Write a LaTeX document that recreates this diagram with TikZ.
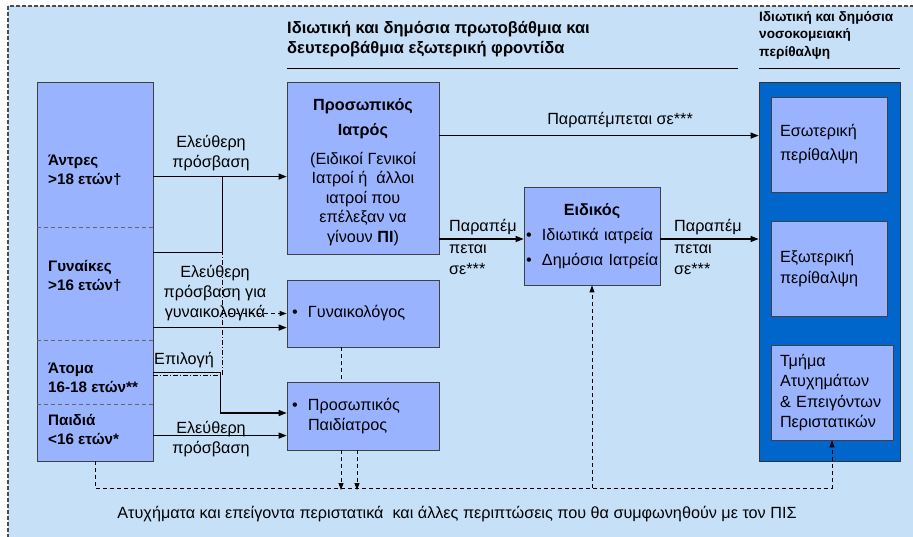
\documentclass[tikz,border=0pt]{standalone}
\usepackage{fontspec}
\setmainfont{Liberation Sans}
\usetikzlibrary{arrows.meta}

\definecolor{bgblue}{HTML}{C6E0F8}
\definecolor{boxblue}{HTML}{99B3FF}
\definecolor{deepblue}{HTML}{0066CC}

\begin{document}
\begin{tikzpicture}[x=1pt,y=-1pt,
    box/.style={draw=black!75,fill=boxblue,line width=0.8pt,inner sep=0pt},
    lbl/.style={align=center,inner sep=0pt,font=\fontsize{16.2}{20}\selectfont},
    grplbl/.style={anchor=west,align=left,inner sep=0pt,font=\fontsize{15.2}{19}\selectfont\bfseries},
    arr/.style={line width=1.1pt,-{Triangle[length=8pt,width=6pt]}},
    darr/.style={line width=0.9pt,dash pattern=on 4pt off 3pt,-{Triangle[length=7pt,width=5pt]}},
    sep/.style={line width=0.9pt,black!60,dash pattern=on 4pt off 3pt}]
    \pgfmathsetmacro{\jx}{69}
    \clip (0,0) rectangle (913,537);
    % frame
    \draw[fill=bgblue,draw=black!70,line width=1.2pt,dash pattern=on 4pt off 2pt]
      (8,6) rectangle (930,560);
    % headings
    \node[anchor=west,align=left,inner sep=0pt,font=\fontsize{16.5}{19.5}\selectfont\bfseries]
      (headprim) at (287,39) {Ιδιωτική και δημόσια πρωτοβάθμια και\\δευτεροβάθμια εξωτερική φροντίδα};
    \node[anchor=west,align=left,inner sep=0pt,font=\fontsize{13.6}{17.5}\selectfont\bfseries]
      (headhosp) at (759,35) {Ιδιωτική και δημόσια\\νοσοκομειακή\\περίθαλψη};
    \draw[line width=0.9pt] (headprim.west |- 0,68) -- (738,68);
    \draw[line width=0.9pt] (headhosp.west |- 0,68) -- (900,68);

    % patient groups
    \node[box,minimum width=116pt,minimum height=379pt] (grp) at (95,271.5) {};
    \draw[sep] ([yshift=-146pt]grp.north west) -- ([yshift=-146pt]grp.north east);
    \draw[sep] ([yshift=-259pt]grp.north west) -- ([yshift=-259pt]grp.north east);
    \draw[sep] ([yshift=-323pt]grp.north west) -- ([yshift=-323pt]grp.north east);
    \node[grplbl] (men) at (48,170) {Άντρες\\>18 ετών†};
    \node[grplbl] (women) at (48,276) {Γυναίκες\\>16 ετών†};
    \node[grplbl] (teens) at (48,378) {Άτομα\\16-18 ετών**};
    \node[grplbl] (kids) at (48,429) {Παιδιά\\<16 ετών*};

    % primary care
    \node[box,minimum width=152pt,minimum height=172pt] (pi) at (363,168) {};
    \node[align=center,inner sep=0pt,font=\fontsize{16.2}{19.5}\selectfont] (pitext) at (363,172)
      {\textbf{Προσωπικός}\\[6pt]\textbf{Ιατρός}\\[9pt](Ειδικοί Γενικοί\\Ιατροί ή\ \ άλλοι\\ιατροί που\\επέλεξαν να\\γίνουν \textbf{ΠΙ})};
    \node[box,minimum height=67pt,text width=142pt,inner xsep=5pt,align=left,
      font=\fontsize{16.2}{20}\selectfont] (gyn) at (363,313.5)
      {\makebox[16pt][l]{•}Γυναικολόγος};
    \node[box,minimum height=68pt,text width=142pt,inner xsep=5pt,align=left,
      font=\fontsize{16.2}{20}\selectfont] (ped) at (363,416)
      {\makebox[16pt][l]{•}Προσωπικός\\\hspace*{16pt}Παιδίατρος};
    \node[box,minimum height=98pt,text width=132pt,inner xsep=2pt,align=left,
      font=\fontsize{16.2}{25}\selectfont] (spec) at (592,236)
      {\makebox[132pt]{\bfseries Ειδικός}\\\makebox[16pt][l]{•}\mbox{Ιδιωτικά ιατρεία}\\\makebox[16pt][l]{•}\mbox{Δημόσια Ιατρεία}};

    % hospital care
    \node[box,fill=deepblue,draw=black!80,minimum width=141pt,minimum height=379pt] (hosp) at (829.5,271.5) {};
    \node[box,minimum height=95pt,text width=98pt,inner xsep=9pt,align=left,
      font=\fontsize{16.2}{24}\selectfont] (inpat) at (829,144.5) {Εσωτερική\\περίθαλψη};
    \node[box,minimum height=95pt,text width=98pt,inner xsep=9pt,align=left,
      font=\fontsize{16.2}{21}\selectfont] (outpat) at (829,268.5) {Εξωτερική\\περίθαλψη};
    \node[box,minimum height=95pt,text width=104pt,inner xsep=9pt,align=left,
      font=\fontsize{16.2}{20.5}\selectfont] (ae) at (832,392.5)
      {Τμήμα\\Ατυχημάτων\\\&\ Επειγόντων\\Περιστατικών};

    % access routes
    \coordinate (s1) at ([yshift=-95pt]grp.north east);
    \coordinate (s2) at ([yshift=-171pt]grp.north east);
    \coordinate (s3) at ([yshift=-246pt]grp.north east);
    \coordinate (s4) at ([yshift=-291pt]grp.north east);
    \coordinate (s5) at ([yshift=-294pt]grp.north east);
    \coordinate (s6) at ([yshift=-354pt]grp.north east);
    \coordinate (jv) at ([xshift=\jx pt]s1);
    \draw[arr] (s1) -- (s1 -| pi.west);
    \draw[line width=1.1pt] (s2) -| (jv);
    \draw[line width=0.9pt,dash pattern=on 5pt off 2pt on 1pt off 2pt] (s5) -| ([xshift=\jx pt]s2);
    \draw[darr] (jv |- gyn.west) -- (gyn.west);
    \draw[arr] (s3) -- (s3 -| gyn.west);
    \draw[arr] (s4) -- ++(67,0) |- ([yshift=3pt]ped.west);
    \draw[arr] (s6) -- (s6 -| ped.west);
    \node[lbl] (free1) at (211,153) {Ελεύθερη\\πρόσβαση};
    \node[lbl] (free2) at (215,293) {Ελεύθερη\\πρόσβαση για\\γυναικολογικά};
    \node[lbl] (choice) at (184,360) {Επιλογή};
    \node[lbl] (free3) at (211,439) {Ελεύθερη\\πρόσβαση};

    % referrals
    \coordinate (r1) at ([yshift=-54pt]pi.north east);
    \coordinate (r2) at ([yshift=-3pt]spec.west);
    \coordinate (r3) at ([yshift=-3pt]spec.east);
    \draw[arr] (r1) -- (r1 -| hosp.west)
      node[lbl,pos=0.566,above=7pt] (ref1) {Παραπέμπεται σε***};
    \draw[arr] (pi.east |- r2) -- (r2);
    \draw[arr] (r3) -- (r3 -| hosp.west);
    \node[lbl,anchor=west,align=left,font=\fontsize{16.2}{21.5}\selectfont] (ref2) at (449,247) {Παραπέμ\\πεται\\σε***};
    \node[lbl,anchor=west,align=left,font=\fontsize{16.2}{21.5}\selectfont] (ref3) at (674,247) {Παραπέμ\\πεται\\σε***};

    % emergencies
    \coordinate (bl) at (0,488);
    \draw[sep,black] ([xshift=-22pt]gyn.south) -- ([xshift=-22pt]ped.north);
    \draw[darr] ([xshift=-22pt]ped.south) -- ([xshift=-22pt,yshift=-2pt]ped.south |- bl);
    \draw[darr] ([xshift=-6pt]ped.south) -- ([xshift=-6pt,yshift=-2pt]ped.south |- bl);
    \draw[darr] (grp.south) |- (ae.south |- bl) -- (ae.south);
    \draw[darr] (spec.south |- bl) -- (spec.south);
    \node[lbl] (emerg) at (457,514) {Ατυχήματα και επείγοντα περιστατικά\ \ και άλλες περιπτώσεις που θα συμφωνηθούν με τον ΠΙΣ};
\end{tikzpicture}
\end{document}
